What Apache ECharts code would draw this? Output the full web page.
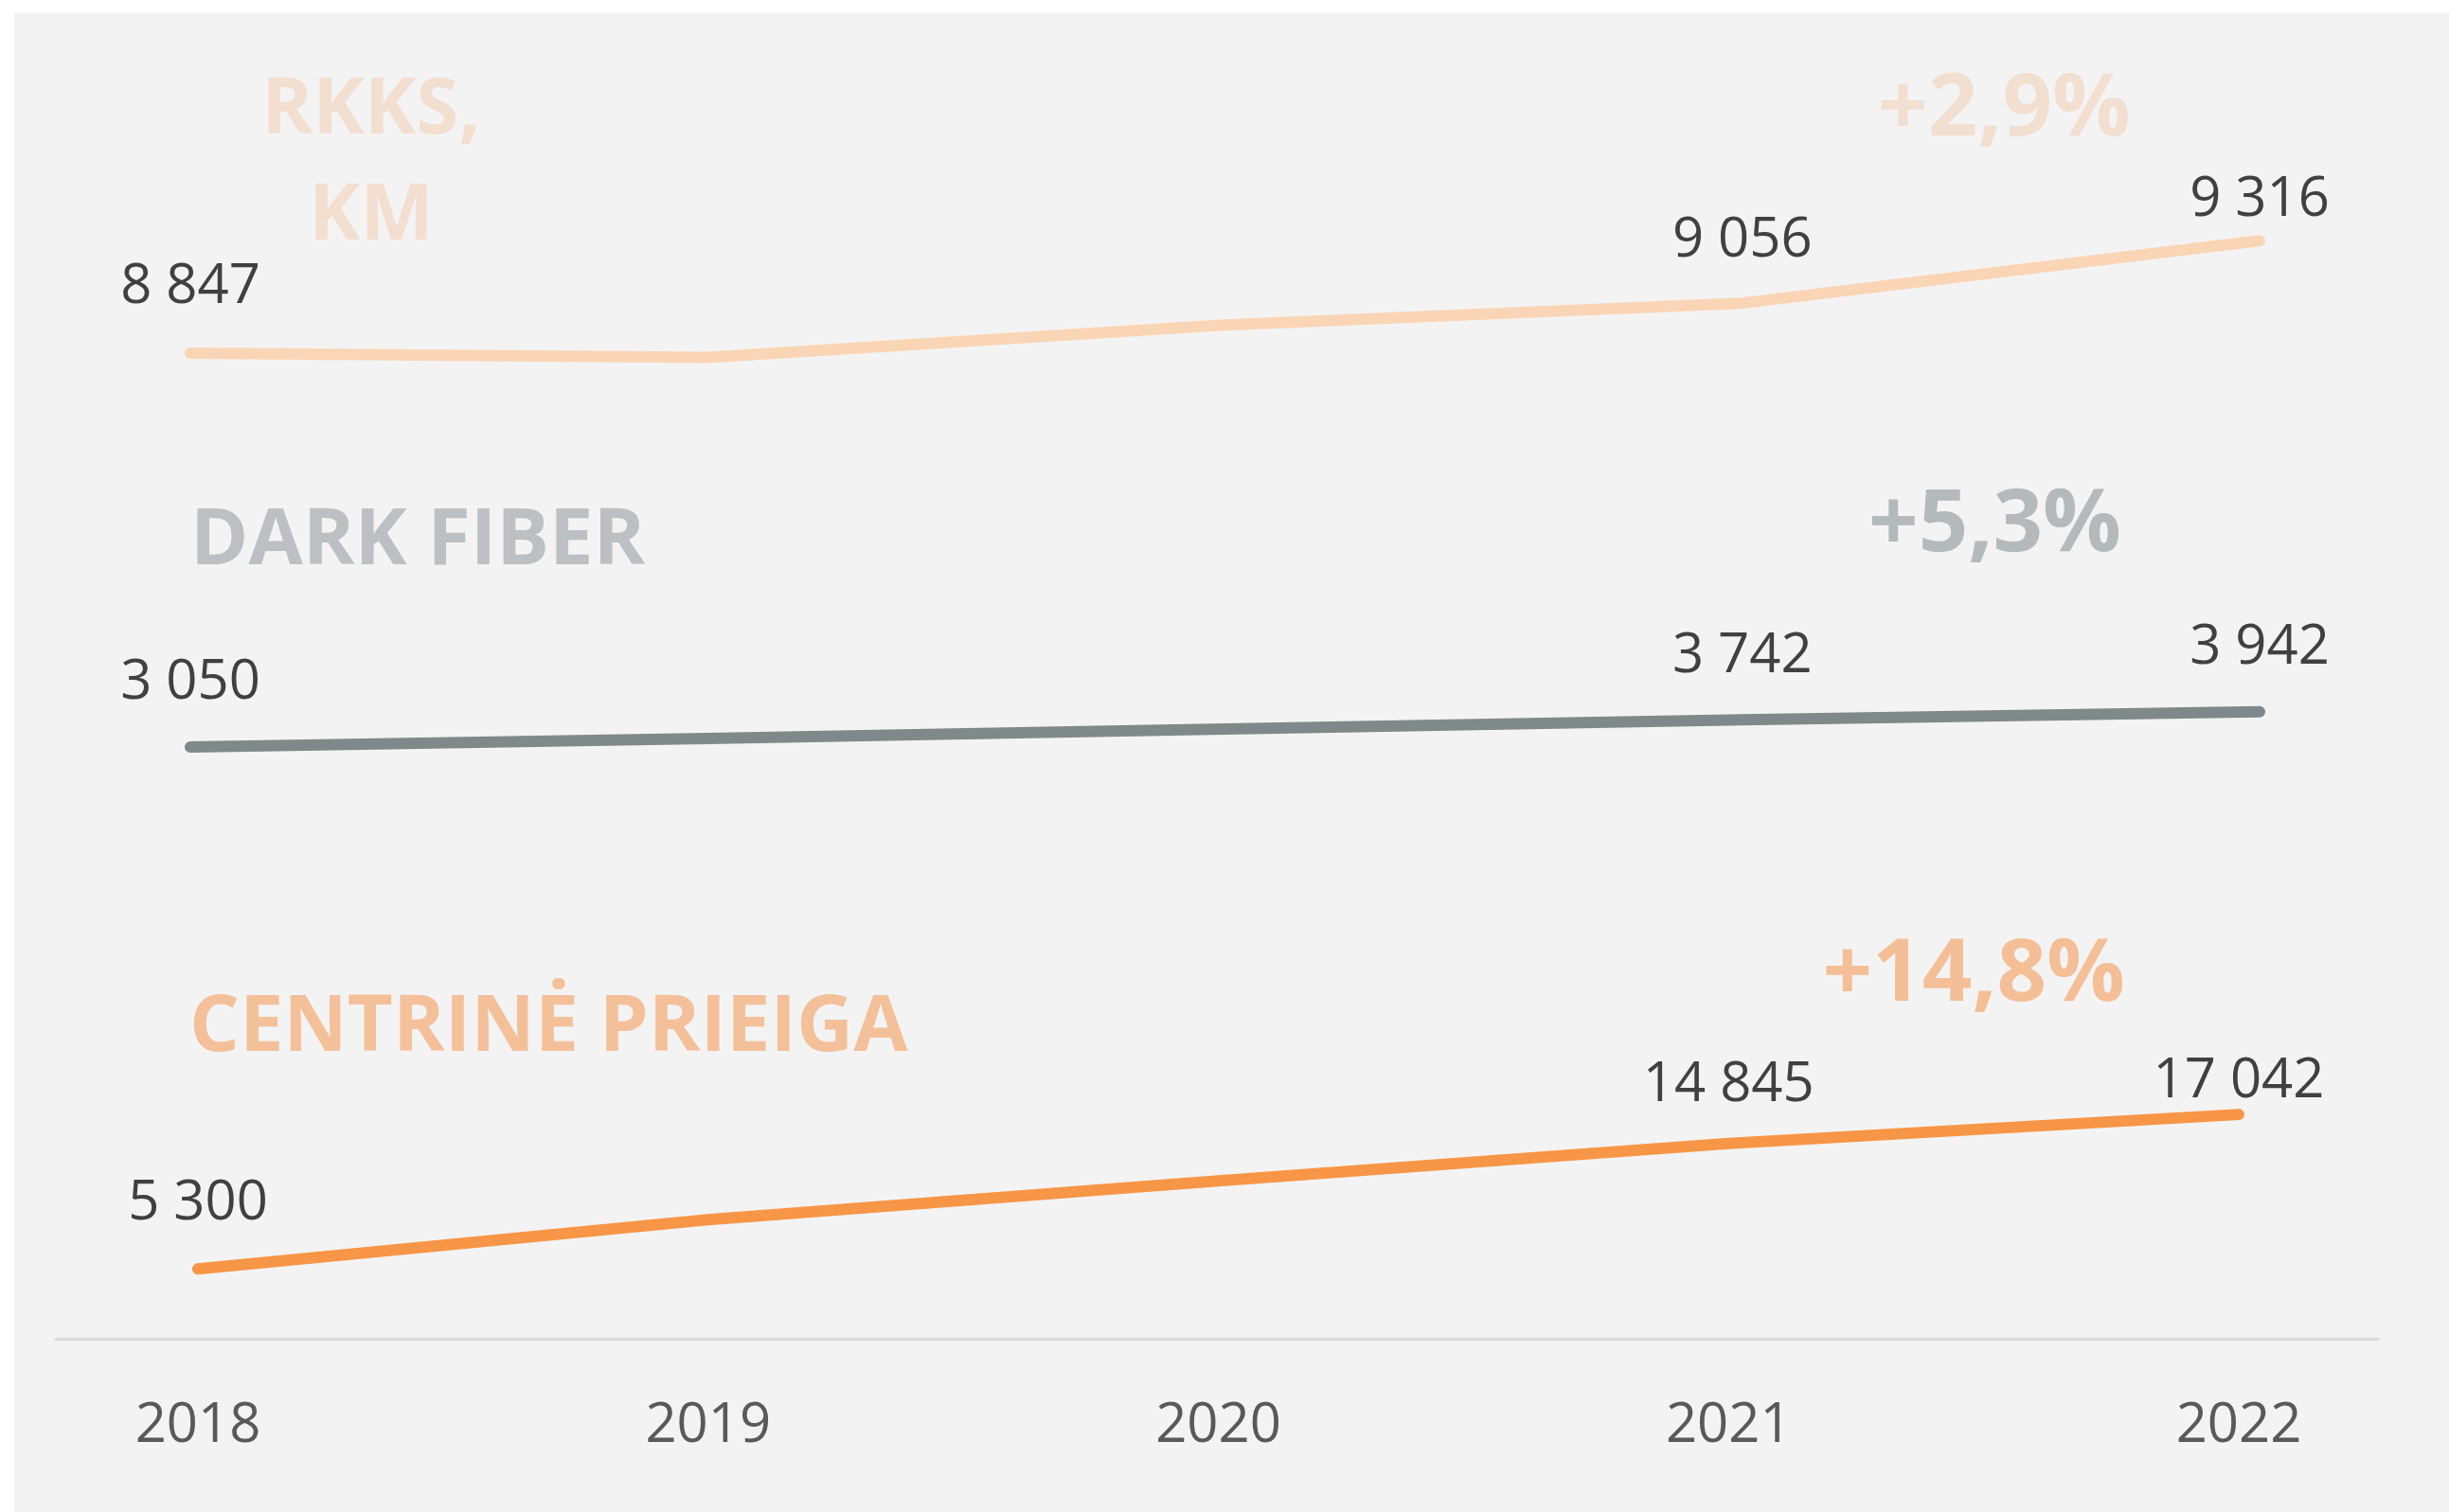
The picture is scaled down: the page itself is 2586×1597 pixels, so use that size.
<!DOCTYPE html>
<html>
<head>
<meta charset="utf-8">
<script src="https://cdn.jsdelivr.net/npm/echarts@6/dist/echarts.min.js"></script>
<style>
  html, body { margin: 0; padding: 0; background: #ffffff; }
  #chart { width: 2586px; height: 1597px; }
</style>
</head>
<body>
<div id="chart"></div>
<script>
// data (2019 and 2020 have no printed values, estimated)
var years = [2018, 2019, 2020, 2021, 2022];
var rkksKm = [8847, 8830, 8965, 9056, 9316];
var darkFiber = [3050, 3265, 3505, 3742, 3942];
var centrinePrieiga = [5300, 9050, 12000, 14845, 17042];
var labelledYears = [2018, 2021, 2022];
var growth = ['+2,9%', '+5,3%', '+14,8%'];

// how far each value label sits above its point (px), index by year
var labelLift = {
    rkks: [75, 0, 0, 71, 48],
    dark: [73, 0, 0, 72, 73],
    centr: [74, 0, 0, 67, 40]
};

var FONT = '"Open Sans", "DejaVu Sans", sans-serif';

function fmt(v) {
    return String(v).replace(/\B(?=(\d{3})+(?!\d))/g, ' ');
}

function makeData(values, lifts) {
    return years.map(function (y, i) {
        var show = labelledYears.indexOf(y) !== -1;
        return {
            value: [y, values[i]],
            label: {
                show: show,
                distance: Math.max(lifts[i] - 35, 0)
            }
        };
    });
}

function lineSeries(name, values, lifts, color, idx) {
    return {
        name: name,
        type: 'line',
        xAxisIndex: idx,
        yAxisIndex: idx,
        symbol: 'circle',
        symbolSize: 1,
        itemStyle: { color: color },
        lineStyle: { color: color, width: 12, cap: 'round', join: 'round' },
        label: {
            position: 'top',
            color: '#404040',
            fontFamily: FONT,
            fontSize: 58,
            formatter: function (p) { return fmt(p.value[1]); }
        },
        emphasis: { disabled: true },
        silent: true,
        animation: false,
        data: makeData(values, lifts)
    };
}

var chart = echarts.init(document.getElementById('chart'));

var option = {
    backgroundColor: '#ffffff',
    animation: false,
    grid: [
        { left: 201, right: 200, top: 195, bottom: 1174 },
        { left: 201, right: 200, top: 741, bottom: 785 },
        { left: 59, right: 75, top: 1136, bottom: 183 }
    ],
    xAxis: [
        { type: 'value', gridIndex: 0, min: 2018, max: 2022, show: false },
        { type: 'value', gridIndex: 1, min: 2018, max: 2022, show: false },
        {
            type: 'value',
            gridIndex: 2,
            min: 2017.7216,
            max: 2022.2729,
            axisLine: { show: true, onZero: false, lineStyle: { color: '#d9d9d9', width: 3 } },
            axisTick: { show: false },
            splitLine: { show: false },
            axisLabel: {
                customValues: years,
                formatter: function (v) { return String(v); },
                color: '#595959',
                fontFamily: FONT,
                fontSize: 58,
                margin: 63
            }
        }
    ],
    yAxis: [
        { type: 'value', gridIndex: 0, min: 8650, max: 9550, show: false },
        { type: 'value', gridIndex: 1, min: 2500, max: 4200, show: false },
        { type: 'value', gridIndex: 2, min: 0, max: 20000, show: false }
    ],
    graphic: [
        {
            type: 'rect', z: -10, silent: true,
            shape: { x: 15, y: 14, width: 2571, height: 1583 },
            style: { fill: '#f3f3f3' }
        },
        {
            type: 'text', x: 392, y: 174, silent: true,
            style: {
                text: 'RKKS,\nKM', fill: '#f2dfd0', font: 'bold 82px ' + FONT,
                lineHeight: 112, align: 'center', verticalAlign: 'middle'
            }
        },
        {
            type: 'text', x: 201, y: 572, silent: true,
            style: {
                text: 'DARK FIBER', fill: '#bcc0c2', font: 'bold 83px ' + FONT,
                align: 'left', verticalAlign: 'middle'
            }
        },
        {
            type: 'text', x: 200, y: 1086, silent: true,
            style: {
                text: 'CENTRINĖ PRIEIGA', fill: '#f4c09a', font: 'bold 83px ' + FONT,
                align: 'left', verticalAlign: 'middle'
            }
        },
        {
            type: 'text', x: 2250, y: 117, silent: true,
            style: {
                text: growth[0], fill: '#f2dfd0', font: 'bold 92px ' + FONT,
                align: 'right', verticalAlign: 'middle'
            }
        },
        {
            type: 'text', x: 2240, y: 556, silent: true,
            style: {
                text: growth[1], fill: '#b4b9b9', font: 'bold 92px ' + FONT,
                align: 'right', verticalAlign: 'middle'
            }
        },
        {
            type: 'text', x: 2244, y: 1031, silent: true,
            style: {
                text: growth[2], fill: '#f4bf96', font: 'bold 92px ' + FONT,
                align: 'right', verticalAlign: 'middle'
            }
        }
    ],
    series: [
        lineSeries('RKKS, KM', rkksKm, labelLift.rkks, '#fad5b5', 0),
        lineSeries('DARK FIBER', darkFiber, labelLift.dark, '#7f8989', 1),
        lineSeries('CENTRINĖ PRIEIGA', centrinePrieiga, labelLift.centr, '#f79646', 2)
    ]
};

chart.setOption(option);
</script>
</body>
</html>
